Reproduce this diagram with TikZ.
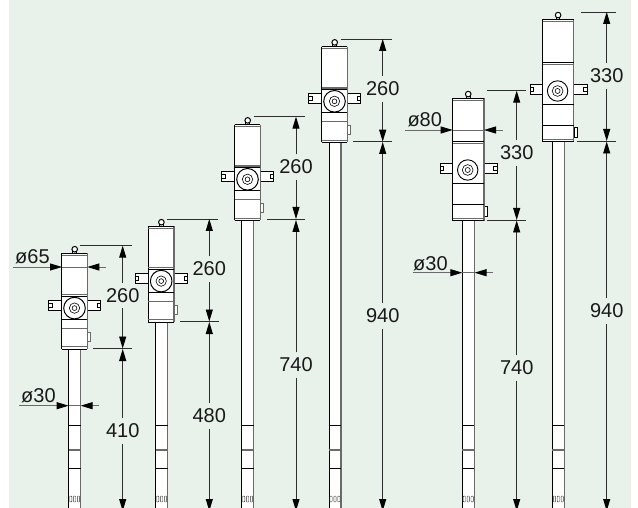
\documentclass[tikz,border=0pt]{standalone}
\usepackage{fontspec}
\setmainfont{Liberation Sans}
\usetikzlibrary{arrows.meta}
\definecolor{bgc}{HTML}{E8F1EA}
\definecolor{dimc}{HTML}{2E2E2E}
\definecolor{greyl}{HTML}{6A6A6A}
\tikzset{
  bl/.style={line width=1pt,black},
  gl/.style={line width=1.1pt,greyl},
  thinl/.style={line width=.7pt,black},
  dimline/.style={line width=.9pt,dimc},
  dimarrow/.style={dimline,-{Triangle[length=12pt,width=7pt,black]}},
  extline/.style={line width=.9pt,dimc},
  dimtext/.style={inner sep=0pt,minimum height=25pt,font=\fontsize{20}{20}\selectfont,text=black!90},
  dialabel/.style={inner sep=0pt,anchor=base west,font=\fontsize{20}{20}\selectfont,text=black!90}
}
% rod: #1 left x, #2 top y
\newcommand{\pumprod}[2]{%
  \begin{scope}[shift={(#1,0)}]
    \fill[white] (0,#2) rectangle (12,508);
    \draw[bl] (0,#2) -- (0,508);
    \draw[gl] (12,#2) -- (12,508);
    \draw[thinl] (0,425) -- (12,425);
    \draw[gl] (0,450) -- (12,450);
    \draw[thinl] (0,468) -- (12,468);
    \foreach \k in {0.9,4.8,8.7}{\draw[line width=.4pt,black!80,rounded corners=.8pt] (\k,496) rectangle ++(2.3,6);}
  \end{scope}}
% common handles
\newcommand{\pumphandles}[4]{% #1 left tip, #2 right tip, #3 y top, #4 body width
  \draw[thinl,fill=white] (0,#3) -- (#1,#3) -- (#1,#3+10) -- (0,#3+10);
  \draw[thinl,fill=white] (#4,#3) -- (#2,#3) -- (#2,#3+10) -- (#4,#3+10);
  \draw[line width=.6pt] (#1,#3+3) rectangle ++(3.5,4);
  \draw[line width=.6pt] (#2,#3+3) rectangle ++(-3.5,4);}
\newcommand{\pumpeye}[1]{%
  \draw[line width=1pt] (#1-1.8,-0.2) -- (#1-1.8,-3.6) (#1+1.8,-0.2) -- (#1+1.8,-3.6);
  \draw[line width=1pt,fill=white] (#1,-4.2) circle (2.8);}
% short pump: #1 left, #2 top
\newcommand{\pumpshort}[2]{%
  \begin{scope}[shift={(#1,#2)}]
    \pumpeye{13}
    \pumphandles{-13.4}{39}{46.7}{25.6}
    \fill[white] (0,0) rectangle (25.6,95.7);
    \draw[line width=.7pt,greyl,fill=white] (25.6,78.7) rectangle (28.6,87.7);
    \draw[gl] (25.6,0) -- (25.6,95.7);
    \draw[bl] (0,0) -- (0,95.7);
    \draw[bl] (0,0) -- (25.6,0);
    \draw[gl,line width=.8pt] (0,2.2) -- (25.6,2.2);
    \draw[gl,line width=1.1pt] (0,41.4) -- (25.6,41.4);
    \draw[bl] (0,43.4) -- (25.6,43.4);
    \draw[bl,fill=white] (12.8,54.7) circle (10.8);
    \draw[line width=.6pt] (12.8,54.7) circle (5.2) (12.8,54.7) circle (2.4);
    \draw[bl] (0,66) -- (25.6,66);
    \draw[gl] (0,74.7) -- (25.6,74.7);
    \draw[gl,line width=.8pt] (0,93.4) -- (25.6,93.4);
    \draw[bl] (0,95.7) -- (25.6,95.7);
  \end{scope}}
% tall pump
\newcommand{\pumptall}[2]{%
  \begin{scope}[shift={(#1,#2)}]
    \pumpeye{15.5}
    \pumphandles{-12.7}{44.3}{64.7}{31.3}
    \fill[white] (0,0) rectangle (31.3,122.4);
    \draw[line width=.7pt,black,fill=white] (31.3,107.7) rectangle (34.3,117.7);
    \draw[gl] (31.3,0) -- (31.3,122.4);
    \draw[bl] (0,0) -- (0,122.4);
    \draw[bl] (0,0) -- (31.3,0);
    \draw[gl,line width=.8pt] (0,2.2) -- (31.3,2.2);
    \draw[bl,line width=1.2pt] (0,43.4) -- (31.3,43.4);
    \draw[gl,line width=.8pt] (0,45.4) -- (31.3,45.4);
    \draw[line width=.9pt,fill=white] (15,71.7) circle (10.2);
    \draw[line width=.6pt] (15,71.7) circle (5.4) (15,71.7) circle (2.5);
    \draw[bl] (0,85.7) -- (31.3,85.7);
    \draw[bl] (0,106.7) -- (31.3,106.7);
    \draw[gl,line width=.8pt] (0,119.7) -- (31.3,119.7);
    \draw[bl] (0,122.4) -- (31.3,122.4);
  \end{scope}}
% vertical dimension: id, x, y tip1, y tip2, text y, label
\newcommand{\dimv}[6]{%
  \coordinate (#1-a) at (#2,#3);
  \coordinate (#1-b) at (#2,#4);
  \node[dimtext] (#1-t) at (#2,#5) {#6};
  \draw[dimarrow] (#1-t.north) -- (#1-a);
  \draw[dimarrow] (#1-t.south) -- (#1-b);}
% extension line: id, x1, x2, y
\newcommand{\dimext}[4]{%
  \coordinate (#1-l) at (#2,#4);
  \coordinate (#1-r) at (#3,#4);
  \draw[extline] (#1-l) -- (#1-r);}
% diameter: id, far left, tip left, tip right, far right, y, text x, baseline y, label
\newcommand{\dimdia}[9]{%
  \coordinate (#1-fl) at (#2,#6);
  \coordinate (#1-tl) at (#3,#6);
  \coordinate (#1-tr) at (#4,#6);
  \coordinate (#1-fr) at (#5,#6);
  \draw[gl,line width=.9pt] (#1-tl) -- (#1-tr);
  \draw[dimarrow,greyl] (#1-fl) -- (#1-tl);
  \draw[dimarrow,greyl] (#1-fr) -- (#1-tr);
  \node[dialabel] (#1-t) at (#7,#8) {#9};}
\begin{document}
\begin{tikzpicture}[x=1pt,y=-1pt]
\useasboundingbox (0,0) rectangle (638,508);
\clip (0,0) rectangle (638,508);
\fill[white] (0,0) rectangle (638,508);
\fill[bgc] (9,0) rectangle (631,508);
% pumps
\pumprod{68.6}{349}
\pumprod{155.6}{322}
\pumprod{241.6}{220}
\pumprod{329}{142}
\pumprod{462.3}{220.7}
\pumprod{552.4}{141.7}
\pumpshort{61.7}{253.4}
\pumpshort{148.4}{226.4}
\pumpshort{234.7}{124.6}
\pumpshort{321.7}{46.6}
\pumptall{452.7}{98.3}
\pumptall{542.6}{19.3}
% pump 1
\dimext{e1a}{80}{132}{245.7}
\dimext{e1b}{93}{132}{348.5}
\dimv{d1a}{122.7}{245.7}{348.5}{295.5}{260}
\dimv{d1b}{122.7}{349}{511}{431}{410}
\dimdia{o1}{13}{62}{87.3}{106}{267}{15}{263.3}{ø65}
\dimdia{o2}{19}{68.6}{80.6}{99}{405.7}{21}{402.7}{ø30}
% pump 2
\dimext{e2a}{167}{218}{219}
\dimext{e2b}{180}{219}{321.5}
\dimv{d2a}{209.3}{219}{321.5}{269}{260}
\dimv{d2b}{209.3}{322}{511}{416}{480}
% pump 3
\dimext{e3a}{254}{305}{116.7}
\dimext{e3b}{267}{305}{219}
\dimv{d3a}{296}{116.7}{219}{167}{260}
\dimv{d3b}{296}{220}{511}{365}{740}
% pump 4
\dimext{e4a}{341}{392}{39}
\dimext{e4b}{353}{392}{141.7}
\dimv{d4a}{382.7}{39}{141.7}{89}{260}
\dimv{d4b}{382.7}{142}{511}{316}{940}
% pump 5
\dimext{e5a}{487}{526}{90.7}
\dimext{e5b}{487}{526}{220}
\dimv{d5a}{516.7}{90.7}{220}{153}{330}
\dimv{d5b}{516.7}{220.5}{511}{368}{740}
\dimdia{o3}{405}{452.7}{484}{503}{130}{407.3}{127}{ø80}
\dimdia{o4}{413}{462.3}{474.5}{493}{272.7}{413}{270}{ø30}
% pump 6
\dimext{e6a}{581}{616}{12}
\dimext{e6b}{577}{616}{141}
\dimv{d6a}{606.7}{12}{141}{76}{330}
\dimv{d6b}{606.7}{141.5}{511}{311}{940}
\end{tikzpicture}
\end{document}
